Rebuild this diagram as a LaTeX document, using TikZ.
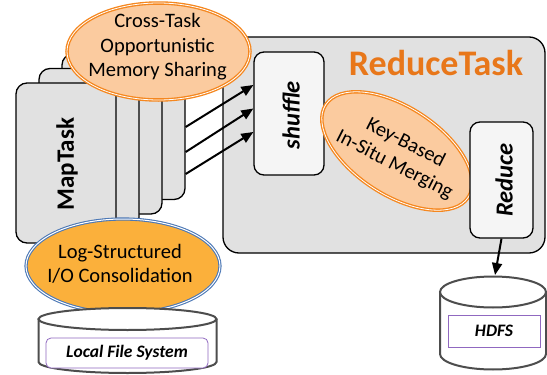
\documentclass[tikz,border=0pt]{standalone}
\usepackage{fontspec}
\setmainfont{Carlito}
\usetikzlibrary{shapes.geometric,arrows.meta}

\definecolor{cardgray}{HTML}{E1E1E1}
\definecolor{boxwhite}{HTML}{F5F5F5}
\definecolor{taskorange}{HTML}{E8771A}
\definecolor{peach}{HTML}{FBCB9F}
\definecolor{peachedge}{HTML}{F5871F}
\definecolor{amber}{HTML}{FBB03B}
\definecolor{steel}{HTML}{4C78B5}
\definecolor{drum}{HTML}{4D4D4D}
\definecolor{lilac}{HTML}{9068C0}

\tikzset{
  card/.style={draw=black, line width=1.3pt, fill=cardgray, rounded corners=11pt,
    minimum width=100pt, minimum height=160pt, inner sep=0pt},
  taskbox/.style={draw=black, line width=1.3pt, fill=cardgray, rounded corners=16pt, inner sep=0pt},
  procbox/.style={draw=black, line width=1.3pt, fill=boxwhite, rounded corners=10pt, inner sep=0pt},
  proctext/.style={font=\fontsize{24.5}{28}\selectfont\bfseries\itshape, rotate=90, inner sep=0pt},
  peachell/.style={ellipse, draw=peachedge, line width=1.35pt, double=white, double distance=0.8pt,
    fill=peach, inner sep=0pt},
  amberell/.style={ellipse, draw=steel, line width=1.1pt, double=white, double distance=1pt,
    fill=amber, inner sep=0pt},
  elltext/.style={align=center, font=\fontsize{20.5}{24.5}\selectfont, inner sep=0pt},
  drumline/.style={draw=drum, line width=2pt},
  drumlabel/.style={draw=lilac, line width=0.8pt, fill=white, inner sep=0pt,
    font=\fontsize{17.5}{20}\selectfont\bfseries\itshape},
  flow/.style={draw=black, line width=2pt, -{Triangle[length=12pt,width=10pt]}},
}

\begin{document}
\begin{tikzpicture}[x=1pt, y=-1pt]
  \useasboundingbox (0,0) rectangle (547,375);

  % reduce task container
  \node[taskbox, minimum width=322pt, minimum height=216pt] (reducetask) at (384,145) {};
  \node[font=\fontsize{36}{40}\selectfont\bfseries, text=taskorange, inner sep=0pt] (reducetitle) at (436,63) {ReduceTask};

  % stack of map tasks, back to front
  \node[card] (card4) at (135,119.5) {};
  \node[card] (card3) at (112,134) {};
  \node[card] (card2) at (89,148.5) {};
  \node[card] (card1) at (66,163) {};
  \node[font=\fontsize{25}{28}\selectfont\bfseries, rotate=90, inner sep=0pt] (maplabel) at (67,164) {MapTask};

  % shuffle, merge and reduce stages
  \node[procbox, minimum width=70pt, minimum height=123pt] (shuffle) at (289,113.5) {};
  \node[proctext] (shuffletxt) at (291,115) {shuffle};

  \draw[flow] ([yshift=-7.5pt]card4.east) -- ([yshift=28.5pt]shuffle.west);
  \draw[flow] ([yshift=-32.5pt]card4.east) -- ([yshift=5pt]shuffle.west);
  \draw[flow] ([yshift=-54.5pt]card4.east) -- ([yshift=-18.5pt]shuffle.west);

  \node[peachell, rotate=-33, minimum width=170pt, minimum height=88pt] (merge) at (397,151) {};
  \node[elltext, rotate=-27] (mergetxt) at (400,154) {Key-Based\\In-Situ Merging};

  \node[procbox, minimum width=63pt, minimum height=116pt] (reduce) at (501.5,180) {};
  \node[proctext] (reducetxt) at (504,180) {Reduce};

  % optimisation ellipses
  \node[peachell, minimum width=183pt, minimum height=97pt] (share) at (158.5,51.5) {};
  \node[elltext] (sharetxt) at (157.5,47) {Cross-Task\\Opportunistic\\Memory Sharing};

  \node[amberell, minimum width=194pt, minimum height=94pt] (logio) at (123,266) {};
  \node[elltext] (logtxt) at (120,264) {Log-Structured\\I/O Consolidation};

  % local file system drum
  \path[fill=white] (38.5,319) -- (38.5,362) arc[start angle=180, end angle=360, x radius=89pt, y radius=11pt] -- (216.5,319) -- cycle;
  \draw[drumline] (38.5,319) -- (38.5,362) arc[start angle=180, end angle=360, x radius=89pt, y radius=11pt] -- (216.5,319);
  \draw[drumline, fill=white] (127.5,319) ellipse[x radius=89pt, y radius=11pt];
  \node[drumlabel, rounded corners=5pt, minimum width=162pt, minimum height=30pt] (lfs) at (127,353) {Local File System};

  % HDFS drum
  \path[fill=white] (440,292) -- (440,354) arc[start angle=180, end angle=360, x radius=53pt, y radius=15.5pt] -- (546,292) -- cycle;
  \draw[drumline] (440,292) -- (440,354) arc[start angle=180, end angle=360, x radius=53pt, y radius=15.5pt] -- (546,292);
  \draw[drumline, fill=white] (493,292) ellipse[x radius=53pt, y radius=15.5pt];
  \node[drumlabel, minimum width=92pt, minimum height=32pt] (hdfs) at (494,331) {HDFS};

  \coordinate (hdfstop) at (495,275);
  \draw[flow] (reduce.south) -- (hdfstop);
\end{tikzpicture}
\end{document}
